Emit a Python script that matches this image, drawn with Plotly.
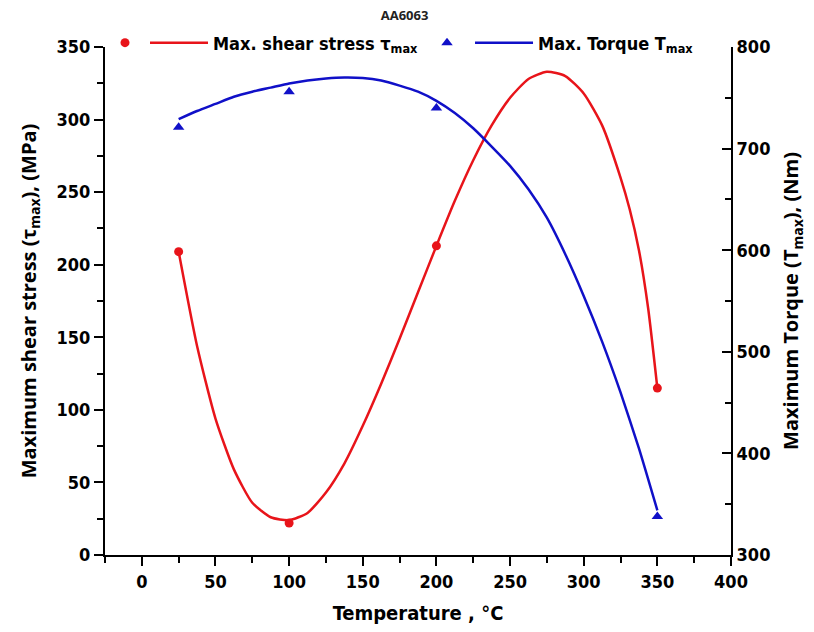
import plotly.graph_objects as go

# Measured data
temperature = [25, 100, 200, 350]
shear_stress = [209, 22, 213, 115]      # MPa
torque = [721, 756, 740, 338]           # Nm

# Fitted curves
shear_fit_x = [25, 37.5, 50, 62.5, 75, 87.5, 100, 112.5, 125, 137.5, 150, 162.5, 175, 187.5, 200,
               212.5, 225, 237.5, 250, 262.5, 275, 287.5, 300, 312.5, 325, 331.25, 337.5, 343.75, 350]
shear_fit_y = [209, 144, 94, 59, 36, 26, 24, 29, 43, 63, 89, 118, 149, 181, 213,
               244, 272, 296, 315, 328, 333, 330, 318, 296, 260, 238, 210, 170, 115]
torque_fit_x = [25, 37.5, 50, 62.5, 75, 87.5, 100, 112.5, 125, 137.5, 150, 162.5, 175, 187.5, 200,
                212.5, 225, 237.5, 250, 262.5, 275, 287.5, 300, 312.5, 325, 337.5, 350]
torque_fit_y = [729, 737, 744, 751, 756, 760, 764, 767, 769, 770, 769.5, 767, 762, 756, 747,
                735, 720, 702, 683, 660, 632, 596, 555, 510, 460, 405, 344]

x_ticks = [0, 50, 100, 150, 200, 250, 300, 350, 400]
y_ticks = [0, 50, 100, 150, 200, 250, 300, 350]
y2_ticks = [300, 400, 500, 600, 700, 800]

RED = "#e8141a"
BLUE = "#1010c8"
NARROW = "Liberation Sans Narrow, DejaVu Sans Condensed, Liberation Sans, Arial, sans-serif"
SANS = "Open Sans, Liberation Sans, Arial, sans-serif"

fig = go.Figure()
fig.add_trace(go.Scatter(x=temperature, y=shear_stress, mode="markers", name=" ", legend="legend",
                         showlegend=True, marker=dict(symbol="circle", size=9, color=RED)))
fig.add_trace(go.Scatter(x=shear_fit_x, y=shear_fit_y, mode="lines", legend="legend2", showlegend=True,
                         name="<b>Max. shear stress τ<sub>max</sub></b>",
                         line=dict(color=RED, width=2.5, shape="spline", smoothing=0.6)))
fig.add_trace(go.Scatter(x=temperature, y=torque, mode="markers", name=" ", yaxis="y2", legend="legend3",
                         showlegend=True, marker=dict(symbol="triangle-up", size=10, color=BLUE)))
fig.add_trace(go.Scatter(x=torque_fit_x, y=torque_fit_y, mode="lines", yaxis="y2", legend="legend4",
                         showlegend=True, name="<b>Max. Torque T<sub>max</sub></b>",
                         line=dict(color=BLUE, width=2.5, shape="spline", smoothing=0.6)))

axis_common = dict(showgrid=False, zeroline=False, showline=True, linecolor="black", linewidth=2,
                   tickcolor="black", tickwidth=2, automargin=False,
                   tickfont=dict(family=NARROW, size=18, color="black", weight="bold"))

legend_font = dict(family=NARROW, size=18, color="black")


def legend_box(xpos, width):
    return dict(orientation="h", x=xpos, xanchor="left", y=1.008, yanchor="middle",
                bgcolor="rgba(0,0,0,0)", itemwidth=width, font=legend_font)


fig.update_layout(
    width=814, height=632,
    margin=dict(l=105, r=83, t=47, b=77),
    showlegend=True,
    plot_bgcolor="white", paper_bgcolor="white",
    title=dict(text="<b>AA6063</b>", x=0.497, xanchor="center", y=0.976, yanchor="middle",
               font=dict(family=SANS, size=13, color="#222")),
    xaxis=dict(range=[-25, 400], tickvals=x_ticks, ticks="outside", ticklen=9,
               minor=dict(dtick=25, tick0=-25, ticks="outside", ticklen=6, tickwidth=2, tickcolor="black"),
               title=dict(text="<b>Temperature , °C</b>",
                          font=dict(family=NARROW, size=20, color="black")),
               **axis_common),
    yaxis=dict(range=[0, 350], tickvals=y_ticks, ticks="outside", ticklen=9,
               minor=dict(dtick=25, ticks="outside", ticklen=6, tickwidth=2, tickcolor="black"),
               title=dict(text="<b>Maximum shear stress (τ<sub>max</sub>), (MPa)</b>",
                          font=dict(family=SANS, size=20, color="black")),
               **axis_common),
    yaxis2=dict(range=[300, 800], tickvals=y2_ticks, overlaying="y", side="right",
                ticks="inside", ticklen=9,
                minor=dict(dtick=50, ticks="inside", ticklen=6, tickwidth=2, tickcolor="black"),
                title=dict(text="<b>Maximum Torque (T<sub>max</sub>), (Nm)</b>",
                           font=dict(family=SANS, size=20, color="black")),
                **axis_common),
    legend=legend_box(0.0, 30),
    legend2=legend_box(0.0639, 58),
    legend3=legend_box(0.5144, 30),
    legend4=legend_box(0.5831, 58),
)

fig.write_html("out.html")
